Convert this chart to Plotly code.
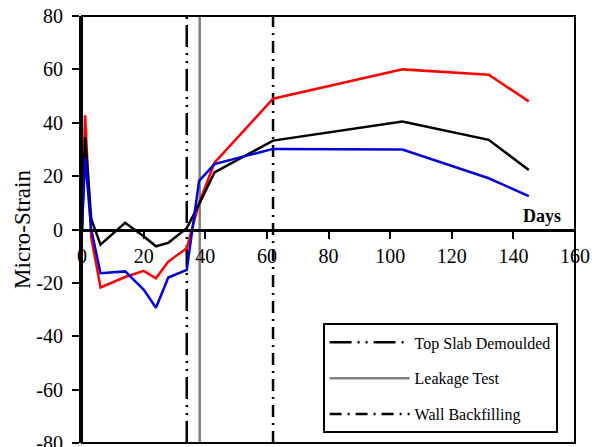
import plotly.graph_objects as go

days = [0, 1, 3, 6, 14, 20, 24, 28, 34, 38, 43, 62, 104, 132, 145]
red_vals = [0, 42.8, -3, -21.7, -17.8, -15.5, -18.3, -12, -7, 10, 25, 49, 60, 58, 48]
black_vals = [0, 34.6, 4, -5.7, 2.5, -2.5, -6.3, -5, 0.5, 9.5, 21.4, 33.3, 40.5, 33.6, 22.3]
blue_vals = [0, 27, 0, -16.4, -15.7, -22.5, -29.3, -18, -15.1, 18.2, 24.5, 30.2, 30, 19.2, 12.5]

event_names = ["Top Slab Demoulded", "Leakage Test", "Wall Backfilling"]
event_days = [34, 38.2, 62]
event_colors = ["black", "#808080", "black"]
event_dashes = ["22px,6px,2px,6px,2px,6px", "solid", "12px,6px,2px,6px"]

y_range = [-80, 80]
x_range = [0, 160]
y_tickvals = [-80, -60, -40, -20, 0, 20, 40, 60, 80]
y_ticktext = ["-80", "-60", "-40", "-20", "0", "20", "40", "60", "80"]
x_tickvals = [0, 20, 40, 60, 80, 100, 120, 140, 160]
x_ticktext = ["0", "20", "40", "60", "80", "100", "120", "140", "160"]

FONT = "Liberation Serif, Times New Roman, serif"

fig = go.Figure()

for name, d, c, dash in zip(event_names, event_days, event_colors, event_dashes):
    fig.add_trace(go.Scatter(
        x=[d, d], y=y_range, mode="lines", name=name,
        line=dict(color=c, width=2.5, dash=dash),
        legendgroup=name, showlegend=True, hoverinfo="skip"))

for vals, col in [(red_vals, "#FF0000"), (black_vals, "#000000"), (blue_vals, "#0000DD")]:
    fig.add_trace(go.Scatter(x=days, y=vals, mode="lines",
                             line=dict(color=col, width=2.5), showlegend=False))

fig.add_shape(type="rect", xref="paper", yref="paper", x0=0, x1=1, y0=0, y1=1,
              line=dict(color="black", width=2))

fig.add_annotation(x=156, y=0, xref="x", yref="y", text="<b>Days</b>",
                   showarrow=False, xanchor="right", yanchor="bottom", yshift=2,
                   font=dict(family=FONT, size=18, color="black"))

fig.update_layout(
    width=592, height=447,
    margin=dict(l=82, r=17, t=16, b=4),
    paper_bgcolor="white", plot_bgcolor="white",
    font=dict(family=FONT, size=18, color="black"),
    legend=dict(x=0.488, y=0.28, xanchor="left", yanchor="top",
                bordercolor="black", borderwidth=2, bgcolor="white",
                font=dict(family=FONT, size=16, color="black"),
                tracegroupgap=12, itemwidth=80),
    xaxis=dict(range=x_range, tickvals=x_tickvals, ticktext=x_ticktext,
               anchor="free", position=0.5, automargin=False,
               showline=True, linecolor="black", linewidth=3,
               ticks="outside", ticklen=7, tickwidth=2, tickcolor="black",
               showgrid=False, zeroline=False, ticklabeloverflow="allow",
               tickfont=dict(family=FONT, size=20)),
    yaxis=dict(range=y_range, tickvals=y_tickvals, ticktext=y_ticktext,
               automargin=False,
               showline=True, linecolor="black", linewidth=3,
               ticks="outside", ticklen=7, tickwidth=2, tickcolor="black",
               showgrid=False, zeroline=False, ticklabeloverflow="allow",
               ticklabelstandoff=5,
               tickfont=dict(family=FONT, size=20),
               title=dict(text="Micro-Strain", font=dict(family=FONT, size=23), standoff=0)),
)

fig.write_html("out.html", config={"displayModeBar": False},
               post_script="document.body.style.margin='0';")
